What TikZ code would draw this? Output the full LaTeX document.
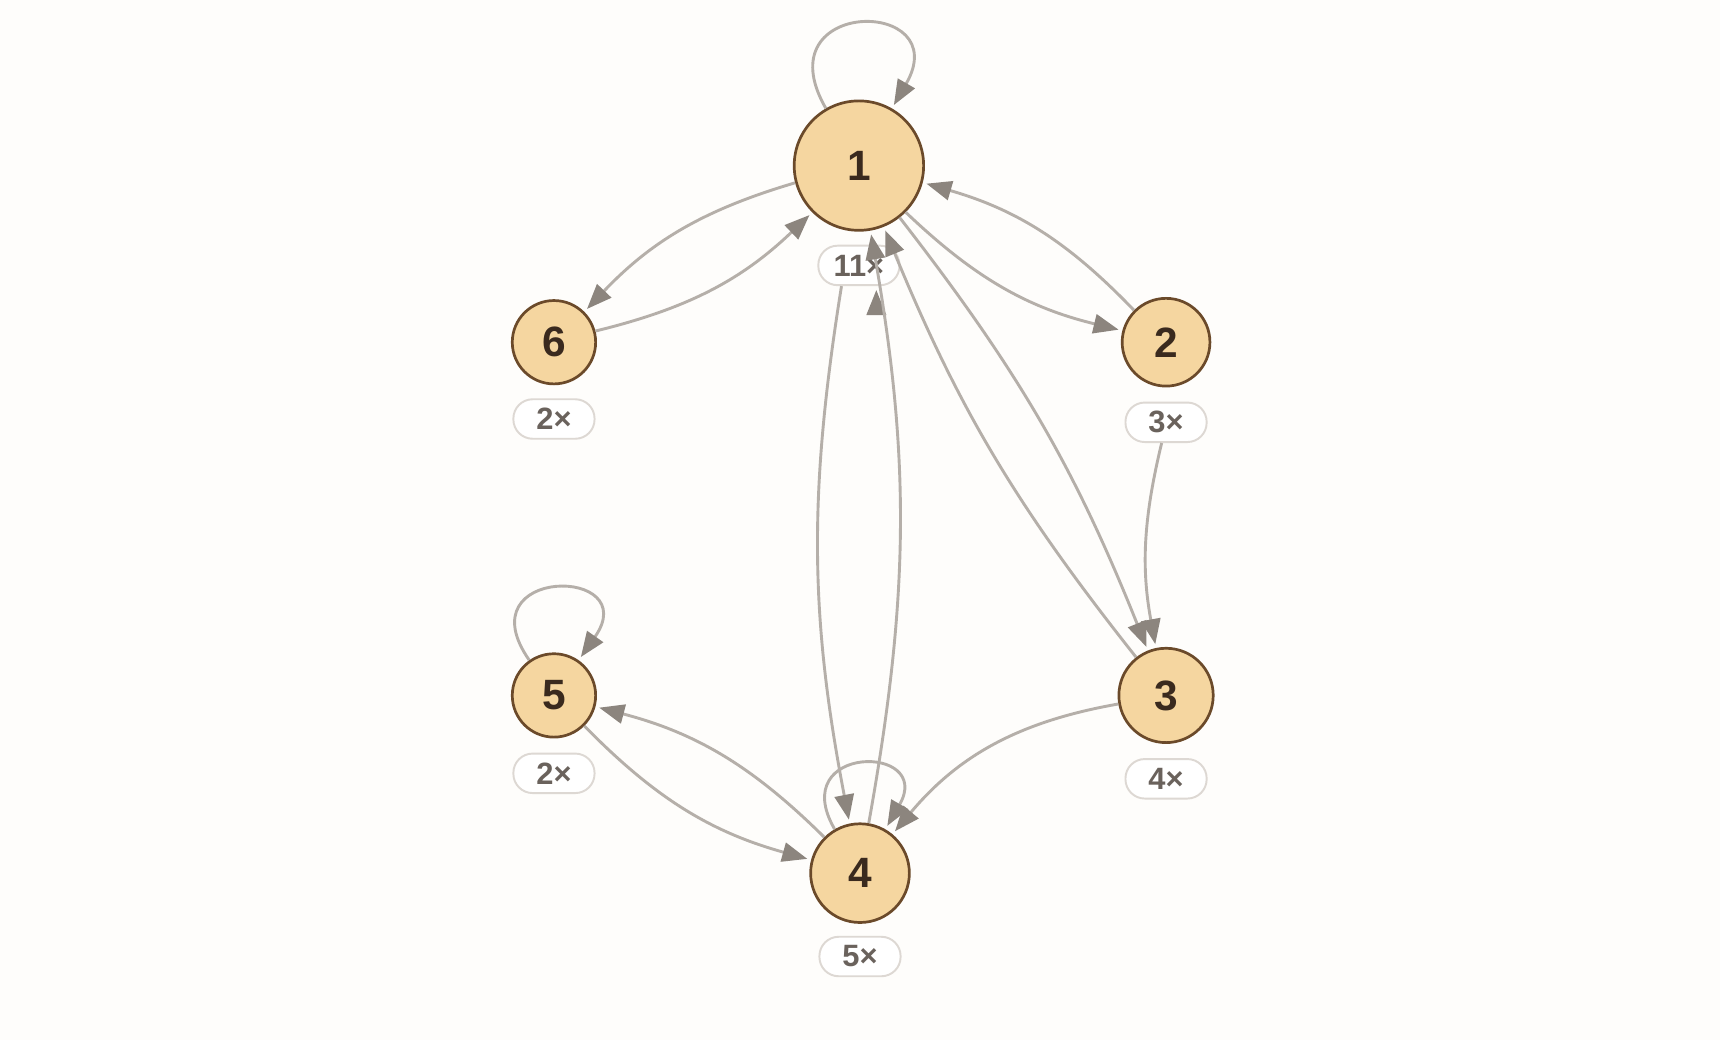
\documentclass[tikz,border=0pt]{standalone}
\usepackage{fontspec}
\setmainfont{Liberation Sans}
\usetikzlibrary{arrows.meta}
\definecolor{bg}{HTML}{FEFDFB}
\definecolor{nfill}{HTML}{F5D6A0}
\definecolor{nbord}{HTML}{6B4A2A}
\definecolor{edg}{HTML}{B5AFA9}
\definecolor{tip}{HTML}{8C857E}
\definecolor{txt}{HTML}{3A2A1E}
\definecolor{ltxt}{HTML}{6A625C}
\definecolor{lbord}{HTML}{DDD8D3}
\tikzset{
  st/.style={circle,draw=nbord,fill=nfill,line width=0.7pt,inner sep=0pt,font=\bfseries\fontsize{11}{11}\selectfont,text=txt},
  cnt/.style={rounded corners=5pt,draw=lbord,fill=white,line width=0.5pt,minimum width=0.74cm,minimum height=0.36cm,inner sep=0pt,font=\bfseries\fontsize{8}{8}\selectfont,text=ltxt},
  ed/.style={draw=edg,line width=0.75pt,-{Triangle[length=6.5pt,width=5pt,color=tip,fill=tip]},shorten >=1pt}
}
\begin{document}
\begin{tikzpicture}
\fill[bg] (0,0) rectangle (15.68,9.48);
\useasboundingbox (0,0) rectangle (15.68,9.48);
\node[st,minimum size=1.18cm] (n1) at (7.83,7.97) {1};
\node[st,minimum size=0.76cm] (n6) at (5.05,6.36) {6};
\node[st,minimum size=0.80cm] (n2) at (10.63,6.36) {2};
\node[st,minimum size=0.76cm] (n5) at (5.05,3.14) {5};
\node[st,minimum size=0.86cm] (n3) at (10.63,3.14) {3};
\node[st,minimum size=0.90cm] (n4) at (7.84,1.52) {4};
\node[cnt] (c1) at (7.83,7.06) {11×};
\node[cnt] (c6) at (5.05,5.66) {2×};
\node[cnt] (c2) at (10.63,5.63) {3×};
\node[cnt] (c5) at (5.05,2.43) {2×};
\node[cnt] (c3) at (10.63,2.38) {4×};
\node[cnt] (c4) at (7.84,0.76) {5×};
\draw[ed] (n1) to[bend right=15] (n6);
\draw[ed] (n6) to[bend right=15] (n1);
\draw[ed] (n1) to[bend right=15] (n2);
\draw[ed] (n2) to[bend right=15] (n1);
\draw[ed] (c1.south west) ++(0.22,0) to[bend right=10] (n4);
\draw[ed] (c1.south east) ++(-0.22,0) coordinate (q) ;
\draw[ed] (n4) to[bend right=10] (n1);
\draw[ed] (n1) to[bend left=8] (n3);
\draw[ed] (n3) to[bend left=8] (n1);
\draw[ed] (c2) to[bend right=12] (n3);
\draw[ed] (n3) to[bend right=20] (n4);
\draw[ed] (n4) to[bend right=15] (n5);
\draw[ed] (n5) to[bend right=15] (n4);
\draw[ed] (n1) to[out=120,in=60,looseness=5] (n1);
\draw[ed] (n5) to[out=125,in=55,looseness=6] (n5);
\draw[ed] (n4) to[out=120,in=60,looseness=5] (n4);
\end{tikzpicture}
\end{document}
